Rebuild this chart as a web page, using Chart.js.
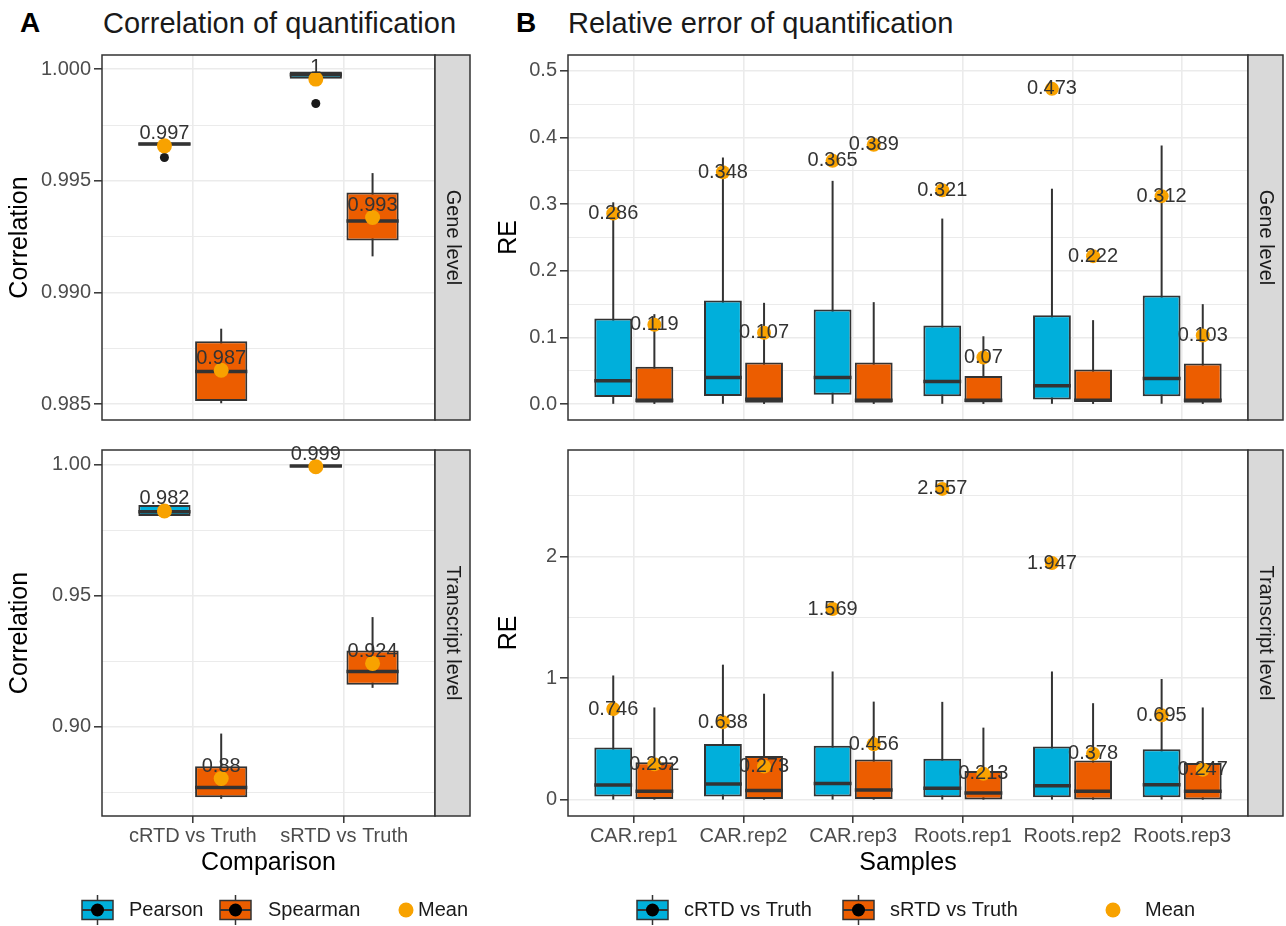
<!DOCTYPE html>
<html>
<head>
<meta charset="utf-8">
<title>Quantification benchmark</title>
<script src="https://cdn.jsdelivr.net/npm/chart.js@4.4.1/dist/chart.umd.min.js"></script>
<style>
  html, body { margin: 0; background: #fff; }
  body { position: relative; width: 1286px; height: 926px; overflow: hidden;
         font-family: "Liberation Sans", Arial, Helvetica, sans-serif; }
  canvas { position: absolute; }
  .tag { position: absolute; font-size: 28px; font-weight: bold; line-height: 1; color: #000; }
  .title { position: absolute; font-size: 29px; line-height: 1; color: #1a1a1a; white-space: nowrap; }
</style>
</head>
<body>
<div class="tag" style="left:20px; top:9px">A</div>
<div class="title" style="left:103px; top:9px">Correlation of quantification</div>
<div class="tag" style="left:516px; top:9px">B</div>
<div class="title" style="left:568px; top:9px">Relative error of quantification</div>

<canvas id="corGene" width="480" height="395" style="left:0; top:40px"></canvas>
<canvas id="corTranscript" width="480" height="491" style="left:0; top:435px"></canvas>
<canvas id="reGene" width="796" height="395" style="left:490px; top:40px"></canvas>
<canvas id="reTranscript" width="796" height="491" style="left:490px; top:435px"></canvas>

<script>
// ---------- panel A: correlation of quantification ----------
const comparisons = ['cRTD vs Truth', 'sRTD vs Truth'];

// gene level, Pearson
const genePearsonLow = [0.99659, 0.99958];
const genePearsonQ1 = [0.99659, 0.99958];
const genePearsonMedian = [0.99665, 0.99975];
const genePearsonQ3 = [0.99672, 0.99990];
const genePearsonHigh = [0.99672, 0.99990];
const genePearsonMean = [0.99657, 0.99956];
const genePearsonOutliers = [[0.99605], [0.99847]];
// gene level, Spearman
const geneSpearmanLow = [0.98504, 0.99162];
const geneSpearmanQ1 = [0.98514, 0.99233];
const geneSpearmanMedian = [0.98646, 0.99320];
const geneSpearmanQ3 = [0.98782, 0.99448];
const geneSpearmanHigh = [0.98838, 0.99535];
const geneSpearmanMean = [0.98652, 0.99336];

// transcript level, Pearson
const txPearsonLow = [0.98057, 0.99910];
const txPearsonQ1 = [0.98057, 0.99910];
const txPearsonMedian = [0.98217, 0.99960];
const txPearsonQ3 = [0.98468, 1.00000];
const txPearsonHigh = [0.98468, 1.00000];
const txPearsonMean = [0.98244, 0.99930];
// transcript level, Spearman
const txSpearmanLow = [0.87256, 0.91491];
const txSpearmanQ1 = [0.87317, 0.91614];
const txSpearmanMedian = [0.87690, 0.92115];
const txSpearmanQ3 = [0.88501, 0.92922];
const txSpearmanHigh = [0.89746, 0.94193];
const txSpearmanMean = [0.88030, 0.92425];

const geneCorTicks = [0.985, 0.990, 0.995, 1.000];
const geneCorTickLabels = ['0.985', '0.990', '0.995', '1.000'];
const geneCorMinorTicks = [0.9875, 0.9925, 0.9975];
const geneCorRange = [0.98429, 1.00064];

const txCorTicks = [0.90, 0.95, 1.00];
const txCorTickLabels = ['0.90', '0.95', '1.00'];
const txCorMinorTicks = [0.875, 0.925, 0.975];
const txCorRange = [0.86599, 1.00572];

// ---------- panel B: relative error of quantification ----------
const samples = ['CAR.rep1', 'CAR.rep2', 'CAR.rep3', 'Roots.rep1', 'Roots.rep2', 'Roots.rep3'];

// gene level, cRTD vs Truth
const geneCrtdLow = [0.0005, 0.0005, 0.0005, 0.0005, 0.0005, 0.0005];
const geneCrtdQ1 = [0.0108, 0.0122, 0.0140, 0.0117, 0.0069, 0.0117];
const geneCrtdMedian = [0.0350, 0.0400, 0.0400, 0.0340, 0.0277, 0.0385];
const geneCrtdQ3 = [0.1285, 0.1553, 0.1420, 0.1178, 0.1334, 0.1630];
const geneCrtdHigh = [0.3028, 0.3700, 0.3350, 0.2784, 0.3232, 0.3880];
const geneCrtdMean = [0.286, 0.348, 0.365, 0.321, 0.473, 0.312];
// gene level, sRTD vs Truth
const geneSrtdLow = [0.0003, 0.0003, 0.0003, 0.0003, 0.0003, 0.0003];
const geneSrtdQ1 = [0.0020, 0.0020, 0.0020, 0.0025, 0.0035, 0.0020];
const geneSrtdMedian = [0.0060, 0.0073, 0.0060, 0.0060, 0.0060, 0.0060];
const geneSrtdQ3 = [0.0560, 0.0623, 0.0625, 0.0423, 0.0521, 0.0609];
const geneSrtdHigh = [0.1350, 0.1520, 0.1530, 0.1018, 0.1260, 0.1500];
const geneSrtdMean = [0.119, 0.107, 0.389, 0.07, 0.222, 0.103];

// transcript level, cRTD vs Truth
const txCrtdLow = [0.001, 0.001, 0.001, 0.001, 0.001, 0.001];
const txCrtdQ1 = [0.0266, 0.027, 0.027, 0.021, 0.021, 0.021];
const txCrtdMedian = [0.121, 0.129, 0.134, 0.094, 0.115, 0.123];
const txCrtdQ3 = [0.429, 0.459, 0.443, 0.338, 0.437, 0.415];
const txCrtdHigh = [1.022, 1.111, 1.055, 0.805, 1.055, 0.993];
const txCrtdMean = [0.746, 0.638, 1.569, 2.557, 1.947, 0.695];
// transcript level, sRTD vs Truth
const txSrtdLow = [0.0005, 0.0005, 0.0005, 0.0005, 0.0005, 0.0005];
const txSrtdQ1 = [0.005, 0.005, 0.005, 0.002, 0.002, 0.002];
const txSrtdMedian = [0.069, 0.075, 0.080, 0.056, 0.069, 0.069];
const txSrtdQ3 = [0.308, 0.359, 0.330, 0.236, 0.322, 0.303];
const txSrtdHigh = [0.759, 0.872, 0.807, 0.593, 0.794, 0.759];
const txSrtdMean = [0.292, 0.273, 0.456, 0.213, 0.378, 0.247];

const geneReTicks = [0, 0.1, 0.2, 0.3, 0.4, 0.5];
const geneReTickLabels = ['0.0', '0.1', '0.2', '0.3', '0.4', '0.5'];
const geneReMinorTicks = [0.05, 0.15, 0.25, 0.35, 0.45];
const geneReRange = [-0.0238, 0.5238];

const txReTicks = [0, 1, 2];
const txReTickLabels = ['0', '1', '2'];
const txReMinorTicks = [0.5, 1.5, 2.5];
const txReRange = [-0.134, 2.877];

// ---------- styling ----------
const INK = '#333333';
const GRID = '#ebebeb';
const BLUE = '#00afdb';
const RED = '#ec5d00';
const MEAN = '#f8a200';
const TICK_TEXT = '#4d4d4d';
const FONT = '"Liberation Sans", Arial, Helvetica, sans-serif';
Chart.defaults.font.family = FONT;

const STRIP_W = 35;

function drawLegend(ctx, area, legend) {
  const cy = area.bottom + legend.dy;
  ctx.save();
  legend.items.forEach((it) => {
    const x = area.left + it.dx;
    if (it.kind === 'box') {
      const w = 31, h = 19, cx = x + w / 2;
      ctx.strokeStyle = INK;
      ctx.lineWidth = 1.5;
      ctx.beginPath();
      ctx.moveTo(cx, cy - 15);
      ctx.lineTo(cx, cy + 15);
      ctx.stroke();
      ctx.fillStyle = it.fill;
      ctx.fillRect(x, cy - h / 2, w, h);
      ctx.strokeRect(x, cy - h / 2, w, h);
      ctx.lineWidth = 2;
      ctx.beginPath();
      ctx.moveTo(x, cy);
      ctx.lineTo(x + w, cy);
      ctx.stroke();
      ctx.fillStyle = '#000';
      ctx.beginPath();
      ctx.arc(cx, cy, 6.5, 0, Math.PI * 2);
      ctx.fill();
    } else {
      ctx.fillStyle = MEAN;
      ctx.beginPath();
      ctx.arc(x, cy, 7.5, 0, Math.PI * 2);
      ctx.fill();
    }
    ctx.fillStyle = '#1a1a1a';
    ctx.font = '20px ' + FONT;
    ctx.textAlign = 'left';
    ctx.textBaseline = 'middle';
    ctx.fillText(it.text, area.left + it.tx, cy);
  });
  ctx.restore();
}

function drawBoxFacet(canvasId, p) {
  const nGroups = p.groups.length;
  const dodge = 0.75 / nGroups;
  const offsetOf = (k) => (k - (nGroups - 1) / 2) * dodge;
  const isMajor = (v) => p.ticks.some((t) => Math.abs(t - v) < 1e-9);

  const datasets = p.groups.map((g) => ({
    type: 'bar',
    label: g.name,
    order: 2,
    data: p.categories.map((c, i) => ({ x: i, y: [g.q1[i], g.q3[i]] })),
    backgroundColor: g.fill,
    borderColor: INK,
    borderWidth: 2,
    borderSkipped: false,
    categoryPercentage: 0.75,
    barPercentage: 0.92,
  }));

  p.groups.forEach((g, k) => {
    if (!g.outliers) return;
    const pts = [];
    g.outliers.forEach((vals, i) => vals.forEach((v) => pts.push({ x: i + offsetOf(k), y: v })));
    datasets.push({
      type: 'line', order: 1, showLine: false, data: pts,
      pointRadius: 4.5, pointBackgroundColor: '#1a1a1a', pointBorderWidth: 0,
    });
  });

  const meanPoints = [];
  const meanText = [];
  p.groups.forEach((g, k) => {
    g.mean.forEach((m, i) => {
      meanPoints.push({ x: i + offsetOf(k), y: m });
      meanText.push(String(+m.toFixed(3)));
    });
  });
  datasets.push({
    type: 'line', order: 0, showLine: false, label: 'Mean', data: meanPoints,
    pointRadius: p.meanRadius, pointBackgroundColor: MEAN, pointBorderWidth: 0,
  });
  const meanIndex = datasets.length - 1;

  const boxParts = {
    id: 'boxParts',
    // whiskers sit under the boxes
    beforeDatasetsDraw(chart) {
      const { ctx, chartArea: a } = chart;
      const y = chart.scales.y;
      ctx.save();
      ctx.beginPath();
      ctx.rect(a.left, a.top, a.width, a.height);
      ctx.clip();
      ctx.strokeStyle = INK;
      ctx.lineWidth = 2;
      p.groups.forEach((g, k) => {
        chart.getDatasetMeta(k).data.forEach((bar, i) => {
          ctx.beginPath();
          ctx.moveTo(bar.x, y.getPixelForValue(g.low[i]));
          ctx.lineTo(bar.x, y.getPixelForValue(g.high[i]));
          ctx.stroke();
        });
      });
      ctx.restore();
    },
    // median bar drawn right after its box
    afterDatasetDraw(chart, args) {
      if (args.index >= nGroups) return;
      const g = p.groups[args.index];
      const { ctx } = chart;
      const y = chart.scales.y;
      ctx.save();
      ctx.strokeStyle = INK;
      ctx.lineWidth = 3.5;
      args.meta.data.forEach((bar, i) => {
        const py = y.getPixelForValue(g.median[i]);
        ctx.beginPath();
        ctx.moveTo(bar.x - bar.width / 2, py);
        ctx.lineTo(bar.x + bar.width / 2, py);
        ctx.stroke();
      });
      ctx.restore();
    },
    afterDatasetsDraw(chart) {
      const { ctx } = chart;
      ctx.save();
      ctx.fillStyle = INK;
      ctx.font = '20px ' + FONT;
      ctx.textAlign = 'center';
      ctx.textBaseline = 'middle';
      chart.getDatasetMeta(meanIndex).data.forEach((pt, j) => {
        ctx.fillText(meanText[j], pt.x, pt.y + p.labelShift);
      });
      ctx.restore();
    },
    afterDraw(chart) {
      const { ctx, chartArea: a } = chart;
      ctx.save();
      ctx.strokeStyle = INK;
      ctx.lineWidth = 1.5;
      ctx.strokeRect(a.left, a.top, a.width, a.height);
      ctx.fillStyle = '#d9d9d9';
      ctx.fillRect(a.right, a.top, STRIP_W, a.height);
      ctx.strokeRect(a.right, a.top, STRIP_W, a.height);
      ctx.translate(a.right + STRIP_W / 2, (a.top + a.bottom) / 2);
      ctx.rotate(Math.PI / 2);
      ctx.fillStyle = '#1a1a1a';
      ctx.font = '20px ' + FONT;
      ctx.textAlign = 'center';
      ctx.textBaseline = 'middle';
      ctx.fillText(p.strip, 0, 0);
      ctx.restore();
      if (p.legend) drawLegend(ctx, a, p.legend);
    },
  };

  return new Chart(document.getElementById(canvasId), {
    type: 'bar',
    data: { datasets },
    options: {
      responsive: false,
      animation: false,
      events: [],
      layout: { padding: p.padding },
      plugins: { legend: { display: false }, tooltip: { enabled: false } },
      scales: {
        x: {
          type: 'linear',
          min: -0.6,
          max: p.categories.length - 0.4,
          bounds: 'data',
          offset: false,
          afterBuildTicks: (s) => { s.ticks = p.categories.map((c, i) => ({ value: i })); },
          afterFit: (s) => { s.height = p.xAxisHeight; },
          grid: {
            offset: false, color: GRID, lineWidth: 1.6,
            drawTicks: !!p.xTitle, tickLength: 7, tickColor: INK, tickWidth: 1.5,
          },
          border: { display: false },
          ticks: {
            display: !!p.xTitle, autoSkip: false, maxRotation: 0, padding: 1,
            color: TICK_TEXT, font: { size: 20 },
            callback: (v) => p.categories[v] ?? '',
          },
          title: {
            display: !!p.xTitle, text: p.xTitle || '', color: '#000',
            font: { size: 25 }, padding: 0,
          },
        },
        y: {
          min: p.range[0],
          max: p.range[1],
          bounds: 'data',
          beginAtZero: false,
          afterBuildTicks: (s) => {
            s.ticks = [...p.ticks, ...p.minorTicks].sort((a, b) => a - b).map((v) => ({ value: v }));
          },
          afterFit: (s) => { s.width = p.yAxisWidth; },
          grid: {
            color: GRID,
            lineWidth: (c) => (c.tick && isMajor(c.tick.value) ? 1.6 : 1),
            tickLength: 8,
            tickWidth: 1.5,
            tickColor: (c) => (c.tick && isMajor(c.tick.value) ? INK : 'rgba(0,0,0,0)'),
          },
          border: { display: false },
          ticks: {
            autoSkip: false, padding: 3, color: TICK_TEXT, font: { size: 20 },
            callback: (v) => {
              const j = p.ticks.findIndex((t) => Math.abs(t - v) < 1e-9);
              return j >= 0 ? p.tickLabels[j] : '';
            },
          },
          title: {
            display: true, text: p.yTitle, color: '#000',
            font: { size: 25 }, padding: { top: p.yTitlePad, bottom: 0 },
          },
        },
      },
    },
    plugins: [boxParts],
  });
}

const corGroups = (pre) => [
  { name: 'Pearson', fill: BLUE },
  { name: 'Spearman', fill: RED },
].map((g, k) => Object.assign(g, pre[k]));

drawBoxFacet('corGene', {
  categories: comparisons,
  groups: corGroups([
    { low: genePearsonLow, q1: genePearsonQ1, median: genePearsonMedian, q3: genePearsonQ3,
      high: genePearsonHigh, mean: genePearsonMean, outliers: genePearsonOutliers },
    { low: geneSpearmanLow, q1: geneSpearmanQ1, median: geneSpearmanMedian, q3: geneSpearmanQ3,
      high: geneSpearmanHigh, mean: geneSpearmanMean },
  ]),
  range: geneCorRange, ticks: geneCorTicks, tickLabels: geneCorTickLabels, minorTicks: geneCorMinorTicks,
  yTitle: 'Correlation', strip: 'Gene level',
  yAxisWidth: 102, yTitlePad: 5, xAxisHeight: 0,
  padding: { left: 0, right: 45, top: 12, bottom: 8 },
  meanRadius: 7.5, labelShift: -12,
});

drawBoxFacet('corTranscript', {
  categories: comparisons,
  groups: corGroups([
    { low: txPearsonLow, q1: txPearsonQ1, median: txPearsonMedian, q3: txPearsonQ3,
      high: txPearsonHigh, mean: txPearsonMean },
    { low: txSpearmanLow, q1: txSpearmanQ1, median: txSpearmanMedian, q3: txSpearmanQ3,
      high: txSpearmanHigh, mean: txSpearmanMean },
  ]),
  range: txCorRange, ticks: txCorTicks, tickLabels: txCorTickLabels, minorTicks: txCorMinorTicks,
  yTitle: 'Correlation', strip: 'Transcript level', xTitle: 'Comparison',
  yAxisWidth: 102, yTitlePad: 5, xAxisHeight: 62,
  padding: { left: 0, right: 45, top: 7, bottom: 48 },
  meanRadius: 7.5, labelShift: -12,
  legend: {
    dy: 94,
    items: [
      { kind: 'box', fill: BLUE, dx: -20, tx: 27, text: 'Pearson' },
      { kind: 'box', fill: RED, dx: 118, tx: 166, text: 'Spearman' },
      { kind: 'dot', dx: 304, tx: 316, text: 'Mean' },
    ],
  },
});

const reGroups = (pre) => [
  { name: 'cRTD vs Truth', fill: BLUE },
  { name: 'sRTD vs Truth', fill: RED },
].map((g, k) => Object.assign(g, pre[k]));

drawBoxFacet('reGene', {
  categories: samples,
  groups: reGroups([
    { low: geneCrtdLow, q1: geneCrtdQ1, median: geneCrtdMedian, q3: geneCrtdQ3,
      high: geneCrtdHigh, mean: geneCrtdMean },
    { low: geneSrtdLow, q1: geneSrtdQ1, median: geneSrtdMedian, q3: geneSrtdQ3,
      high: geneSrtdHigh, mean: geneSrtdMean },
  ]),
  range: geneReRange, ticks: geneReTicks, tickLabels: geneReTickLabels, minorTicks: geneReMinorTicks,
  yTitle: 'RE', strip: 'Gene level',
  yAxisWidth: 78, yTitlePad: 4, xAxisHeight: 0,
  padding: { left: 0, right: 38, top: 12, bottom: 8 },
  meanRadius: 7, labelShift: 0,
});

drawBoxFacet('reTranscript', {
  categories: samples,
  groups: reGroups([
    { low: txCrtdLow, q1: txCrtdQ1, median: txCrtdMedian, q3: txCrtdQ3,
      high: txCrtdHigh, mean: txCrtdMean },
    { low: txSrtdLow, q1: txSrtdQ1, median: txSrtdMedian, q3: txSrtdQ3,
      high: txSrtdHigh, mean: txSrtdMean },
  ]),
  range: txReRange, ticks: txReTicks, tickLabels: txReTickLabels, minorTicks: txReMinorTicks,
  yTitle: 'RE', strip: 'Transcript level', xTitle: 'Samples',
  yAxisWidth: 78, yTitlePad: 4, xAxisHeight: 62,
  padding: { left: 0, right: 38, top: 7, bottom: 48 },
  meanRadius: 7, labelShift: 0,
  legend: {
    dy: 94,
    items: [
      { kind: 'box', fill: BLUE, dx: 69, tx: 116, text: 'cRTD vs Truth' },
      { kind: 'box', fill: RED, dx: 275, tx: 322, text: 'sRTD vs Truth' },
      { kind: 'dot', dx: 545, tx: 577, text: 'Mean' },
    ],
  },
});
</script>
</body>
</html>
